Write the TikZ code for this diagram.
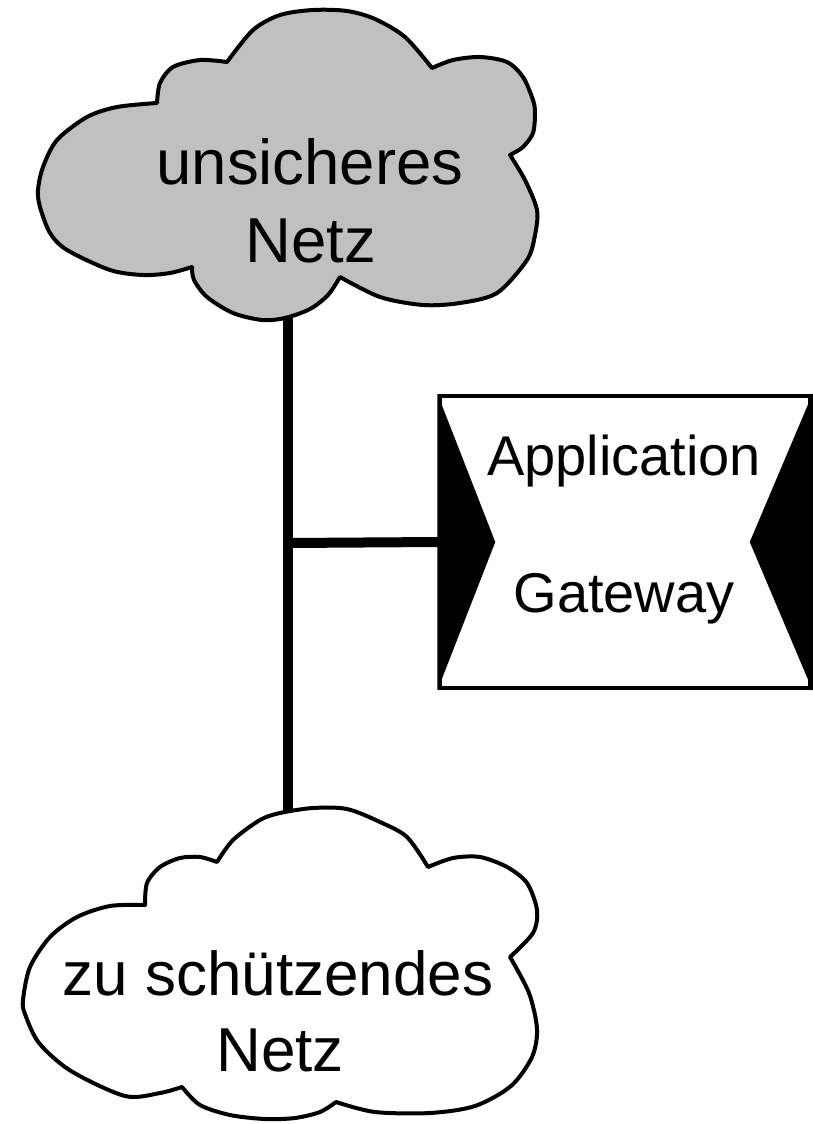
\documentclass[tikz,border=0pt]{standalone}
\usepackage{fontspec}
\setmainfont{Liberation Sans}
\definecolor{cloudgray}{RGB}{192,192,192}
\begin{document}
\begin{tikzpicture}[x=1pt,y=-1pt,
  cloudline/.style={line width=4pt,line join=round},
  netline/.style={line width=10pt},
  gwbox/.style={draw,fill=white,line width=3.5pt,minimum width=370pt,minimum height=292pt,inner sep=0pt},
  bigtext/.style={font=\fontsize{63.5}{76}\selectfont,inner sep=0pt,anchor=base},
  bottext/.style={font=\fontsize{62}{74}\selectfont,inner sep=0pt,anchor=base},
  gwtext/.style={font=\fontsize{56}{67}\selectfont,inner sep=0pt,anchor=base}]
\useasboundingbox (0,0) rectangle (813,1124);

\coordinate (netTop) at (288,300);
\coordinate (junction) at (288,543);
\coordinate (netBot) at (288,830);

% vertical network line
\draw[netline] (netTop) -- (netBot);

% top cloud
\filldraw[cloudline,fill=cloudgray]
  plot[smooth] coordinates {(192,267) (170,273) (143,275) (110,270) (67,250) (50,233) (40,207) (38,190) (43,167) (57,140) (87,117) (117,107) (157,103)}
  -- plot[smooth] coordinates {(157,103) (160,83) (173,67) (200,60) (227,62)}
  -- plot[smooth] coordinates {(227,62) (253,30) (280,15) (313,10) (347,11) (375,19) (405,37) (432,68)}
  -- plot[smooth] coordinates {(432,68) (453,60) (480,57) (507,62) (523,77) (533,100) (535,113) (533,133) (523,147) (510,155)}
  -- plot[smooth] coordinates {(510,155) (525,180) (537,210) (535,235) (527,260) (497,293) (460,303) (423,305) (380,297) (340,277)}
  -- plot[smooth] coordinates {(340,277) (328,295) (310,309) (285,318) (262,320) (233,313) (207,297) (194,280) (192,267)}
  -- cycle;

% bottom cloud
\filldraw[cloudline,fill=white]
  plot[smooth] coordinates {(182,1087) (160,1093) (125,1096) (71,1071) (39,1043) (25,1014) (23,1000) (30,967) (50,937) (77,917) (110,906) (145,905)}
  -- plot[smooth] coordinates {(145,905) (147,883) (160,867) (180,858) (200,857) (217,862)}
  -- plot[smooth] coordinates {(217,862) (233,840) (260,820) (280,813) (313,808) (347,809) (380,822) (407,837) (428,867)}
  -- plot[smooth] coordinates {(428,867) (453,858) (480,857) (507,867) (527,883) (537,910) (533,933) (510,957)}
  -- plot[smooth] coordinates {(510,957) (529,993) (537,1029) (532,1057) (511,1086) (475,1106) (430,1113) (375,1112) (336,1102)}
  -- plot[smooth] coordinates {(336,1102) (320,1112) (295,1118) (265,1119) (230,1115) (200,1105) (182,1087)}
  -- cycle;

% cloud texts
\node[bigtext] (topA) at (310,184) {unsicheres};
\node[bigtext] (topB) at (311,262) {Netz};
\node[bottext] (botA) at (278,995) {zu schützendes};
\node[bottext] (botB) at (280,1071) {Netz};

% application gateway
\node[gwbox] (gw) at (625,542) {};
\fill ([xshift=-1pt,yshift=1pt]gw.north west) -- ([xshift=57pt]gw.west) -- ([xshift=-1pt,yshift=-1pt]gw.south west) -- cycle;
\fill ([xshift=1pt,yshift=1pt]gw.north east) -- ([xshift=-62pt]gw.east) -- ([xshift=1pt,yshift=-1pt]gw.south east) -- cycle;
\node[gwtext] (gwA) at (624,475) {Application};
\node[gwtext] (gwB) at (624,612) {Gateway};

% branch to gateway
\draw[netline] (junction) -- (gw.west);
\end{tikzpicture}
\end{document}
